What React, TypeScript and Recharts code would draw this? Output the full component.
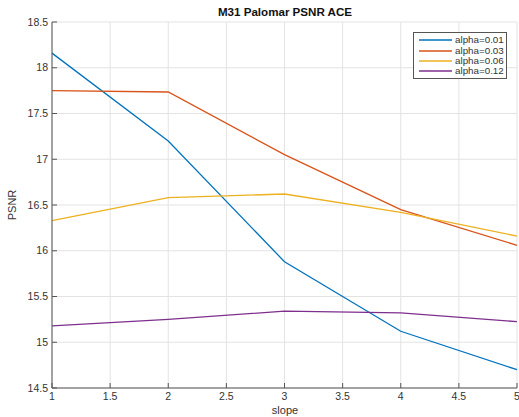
import { LineChart, Line, XAxis, YAxis, CartesianGrid } from "recharts";

const slopes = [1, 2, 3, 4, 5];
const alpha001 = [18.16, 17.2, 15.88, 15.12, 14.7];
const alpha003 = [17.75, 17.735, 17.05, 16.45, 16.06];
const alpha006 = [16.33, 16.58, 16.62, 16.42, 16.16];
const alpha012 = [15.18, 15.25, 15.34, 15.32, 15.225];

const xTicks = [1, 1.5, 2, 2.5, 3, 3.5, 4, 4.5, 5];
const yTicks = [14.5, 15, 15.5, 16, 16.5, 17, 17.5, 18, 18.5];

const series = [
  { key: "a001", name: "alpha=0.01", color: "#0072BD", values: alpha001 },
  { key: "a003", name: "alpha=0.03", color: "#D95319", values: alpha003 },
  { key: "a006", name: "alpha=0.06", color: "#EDB120", values: alpha006 },
  { key: "a012", name: "alpha=0.12", color: "#7E2F8E", values: alpha012 },
];

const data = slopes.map((s, i) => {
  const row: Record<string, number> = { slope: s };
  series.forEach((ser) => (row[ser.key] = ser.values[i]));
  return row;
});

const font = "'Liberation Sans', Arial, sans-serif";
const axisColor = "#555";
const tickStyle = { fontSize: 10.5, fill: "#333", fontFamily: font };

export default function App() {
  return (
    <div
      style={{
        position: "absolute",
        left: 0,
        top: 0,
        width: 519,
        height: 417,
        background: "#fff",
        fontFamily: font,
      }}
    >
      <LineChart
        width={519}
        height={417}
        data={data}
        margin={{ top: 22, right: 2, bottom: 0, left: 0 }}
      >
        <CartesianGrid stroke="#e3e3e3" strokeWidth={1} />
        <XAxis
          dataKey="slope"
          type="number"
          domain={[1, 5]}
          ticks={xTicks}
          height={29}
          tickSize={-5}
          tickMargin={10}
          stroke={axisColor}
          tick={tickStyle}
          interval={0}
        />
        <XAxis
          xAxisId="top"
          orientation="top"
          dataKey="slope"
          type="number"
          domain={[1, 5]}
          ticks={xTicks}
          height={0}
          tickSize={-5}
          tickFormatter={() => ""}
          stroke={axisColor}
          interval={0}
        />
        <YAxis
          type="number"
          domain={[14.5, 18.5]}
          ticks={yTicks}
          width={52}
          tickSize={-5}
          tickMargin={9}
          stroke={axisColor}
          tick={tickStyle}
          interval={0}
        />
        <YAxis
          yAxisId="right"
          orientation="right"
          type="number"
          domain={[14.5, 18.5]}
          ticks={yTicks}
          width={0}
          tickSize={-5}
          tickFormatter={() => ""}
          stroke={axisColor}
          interval={0}
        />
        {series.map((s) => (
          <Line
            key={s.key}
            dataKey={s.key}
            name={s.name}
            type="linear"
            stroke={s.color}
            strokeWidth={1.3}
            dot={false}
            isAnimationActive={false}
          />
        ))}
      </LineChart>

      <div
        style={{
          position: "absolute",
          left: 185,
          top: 5,
          width: 200,
          textAlign: "center",
          fontWeight: "bold",
          fontSize: 11.6,
          color: "#111",
        }}
      >
        M31 Palomar PSNR ACE
      </div>

      <div
        style={{
          position: "absolute",
          left: 235,
          top: 404,
          width: 100,
          textAlign: "center",
          fontSize: 11,
          color: "#333",
        }}
      >
        slope
      </div>

      <div
        style={{
          position: "absolute",
          left: 12,
          top: 205,
          transform: "translate(-50%, -50%) rotate(-90deg)",
          fontSize: 11,
          color: "#333",
        }}
      >
        PSNR
      </div>

      <div
        style={{
          position: "absolute",
          left: 413,
          top: 32,
          width: 94,
          height: 47,
          border: "1px solid #555",
          background: "#fff",
          boxSizing: "border-box",
          paddingTop: 2,
        }}
      >
        {series.map((s) => (
          <div
            key={s.key}
            style={{
              display: "flex",
              alignItems: "center",
              height: 10.4,
              fontSize: 9.8,
              color: "#333",
            }}
          >
            <svg width={40} height={8} style={{ flex: "none" }}>
              <line x1={5} y1={4} x2={38} y2={4} stroke={s.color} strokeWidth={1.3} />
            </svg>
            <span style={{ marginLeft: 1, lineHeight: 1 }}>{s.name}</span>
          </div>
        ))}
      </div>
    </div>
  );
}
